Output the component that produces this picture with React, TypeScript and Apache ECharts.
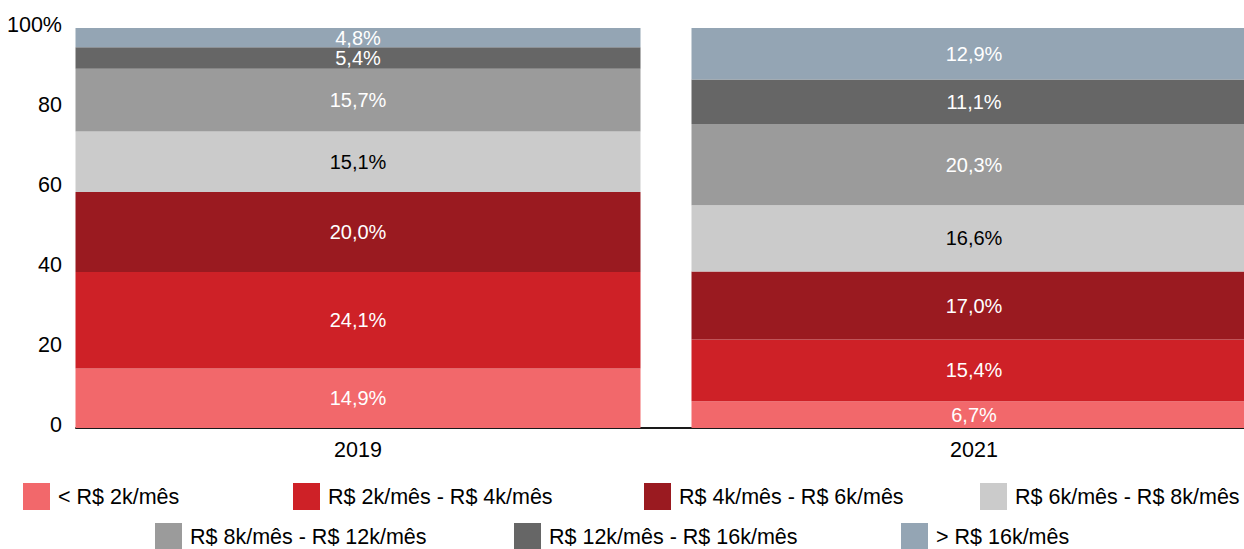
import React, { useEffect, useRef } from "react";
import * as echarts from "echarts";

const categories = ["2019", "2021"];
const seriesNames = [
  "< R$ 2k/mês",
  "R$ 2k/mês - R$ 4k/mês",
  "R$ 4k/mês - R$ 6k/mês",
  "R$ 6k/mês - R$ 8k/mês",
  "R$ 8k/mês - R$ 12k/mês",
  "R$ 12k/mês - R$ 16k/mês",
  "> R$ 16k/mês",
];
const below2k = [14.9, 6.7];
const from2to4k = [24.1, 15.4];
const from4to6k = [20.0, 17.0];
const from6to8k = [15.1, 16.6];
const from8to12k = [15.7, 20.3];
const from12to16k = [5.4, 11.1];
const above16k = [4.8, 12.9];
const seriesValues = [below2k, from2to4k, from4to6k, from6to8k, from8to12k, from12to16k, above16k];
const yTicks = [0, 20, 40, 60, 80, 100];

const colors = ["#f2686b", "#ce2127", "#9a1a20", "#cbcbcb", "#9b9b9b", "#666666", "#94a5b4"];
const labelColors = ["#fff", "#fff", "#fff", "#000", "#fff", "#fff", "#fff"];
const legendPos = [
  [23, 483],
  [293, 483],
  [644, 483],
  [980, 483],
  [155, 523],
  [514, 523],
  [901, 523],
];

const FONT = "'Liberation Sans', Arial, sans-serif";
const FS = 21.5;
const LABEL_FS = 20;

export default function App() {
  const ref = useRef<HTMLDivElement>(null);
  useEffect(() => {
    if (!ref.current) return;
    const chart = echarts.init(ref.current, null, { renderer: "svg" });
    const fmt = (v: number) => v.toFixed(1).replace(".", ",") + "%";
    chart.setOption({
      animation: false,
      textStyle: { fontFamily: FONT },
      grid: [
        { left: 50, width: 1232, top: 28, height: 400, containLabel: false, outerBoundsMode: "none" },
        { left: 76, right: 0, top: 28, height: 400, containLabel: false, outerBoundsMode: "none" },
      ],
      xAxis: [
        {
          type: "category",
          gridIndex: 0,
          data: categories,
          axisLine: { show: false },
          axisTick: { show: false },
          axisLabel: { color: "#000", fontSize: FS, margin: 11, fontFamily: FONT },
        },
        {
          type: "category",
          gridIndex: 1,
          data: categories,
          axisLine: { show: true, lineStyle: { color: "#1a1a1a", width: 2 } },
          axisTick: { show: false },
          axisLabel: { show: false },
        },
      ],
      yAxis: [
        {
          type: "value",
          gridIndex: 0,
          min: yTicks[0],
          max: yTicks[yTicks.length - 1],
          interval: 20,
          offset: -26,
          axisLine: { show: false },
          axisTick: { show: false },
          splitLine: { show: false },
          axisLabel: {
            color: "#000",
            fontSize: FS,
            margin: 14,
            verticalAlign: "bottom",
            lineHeight: 7,
            fontFamily: FONT,
            formatter: (v: number) => (v === 100 ? "100%" : String(v)),
          },
        },
        {
          type: "value",
          gridIndex: 1,
          min: 0,
          max: 100,
          show: false,
        },
      ],
      legend: seriesNames.map((name, i) => ({
        data: [{ name, icon: "rect" }],
        left: legendPos[i][0],
        top: legendPos[i][1],
        padding: 0,
        itemWidth: 27,
        itemHeight: 27,
        selectedMode: false,
        textStyle: { color: "#000", fontSize: FS, fontFamily: FONT, padding: [0, 0, 0, 3] },
      })),
      series: seriesNames.map((name, i) => ({
        name,
        type: "bar",
        stack: "total",
        xAxisIndex: 0,
        yAxisIndex: 0,
        barWidth: 565,
        data: seriesValues[i],
        itemStyle: { color: colors[i] },
        label: {
          show: true,
          position: "inside",
          color: labelColors[i],
          fontSize: LABEL_FS,
          lineHeight: 19,
          fontFamily: FONT,
          formatter: (p: any) => fmt(p.value),
        },
        emphasis: { disabled: true },
      })),
    });
    return () => chart.dispose();
  }, []);
  return (
    <div
      ref={ref}
      style={{ position: "absolute", left: 0, top: 0, width: 1244, height: 549 }}
    />
  );
}
